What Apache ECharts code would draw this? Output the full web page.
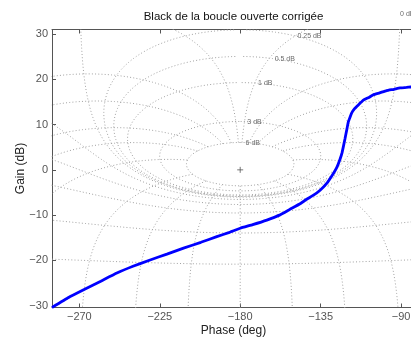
<!DOCTYPE html>
<html><head><meta charset="utf-8">
<script src="https://cdn.jsdelivr.net/npm/echarts@6/dist/echarts.min.js"></script>
<style>html,body{margin:0;padding:0;background:#fff}#c{width:411px;height:340px}</style>
</head><body><div id="c"></div>
<script>
// ---- texts ----
const titleText = 'Black de la boucle ouverte corrigée';
const xName = 'Phase (deg)';
const yName = 'Gain (dB)';
// ---- tick labels ----
const xTicks = [-270, -225, -180, -135, -90];
const yTicks = [-30, -20, -10, 0, 10, 20, 30];
// ---- open-loop curve (phase deg, gain dB) ----
const curvePhase = [-285.3,-276,-267.6,-258,-249,-240,-230.4,-221,-211.7,-202,-193.1,-186,-180,-173,-165.1,-158,-152.1,-147,-142.8,-139,-135.3,-131.6,-128.5,-126,-124.1,-123,-121.4,-120.3,-119.5,-118.5,-117.6,-116,-114.8,-113,-111.1,-108,-105.5,-102,-98.1,-94,-90.6,-87,-84.5,-82];
const curveGain  = [-30.4,-28.2,-26.5,-24.6,-22.8,-21.3,-19.9,-18.6,-17.3,-16.0,-14.75,-13.8,-12.9,-12.1,-11.1,-10.0,-8.7,-7.6,-6.5,-5.6,-4.5,-3.0,-1.2,0.5,2.4,3.8,6.8,9.0,10.6,11.7,12.6,13.5,14.0,14.7,15.4,16.0,16.6,17.0,17.5,17.8,18.1,18.2,18.3,18.4];
// ---- Nichols grid definition ----
const gridGainsDb = [6, 3, 1, 0.5, 0.25, 0, -1, -3, -6, -12, -20, -40];
const gridPhasesDeg = [1, 5, 10, 20, 30, 50, 90, 120, 150, 180];
const labelGainsDb = [6, 3, 1, 0.5, 0.25, 0];
const labelAtPhase = [-177, -176, -170, -160.7, -148, -90.55];
const critPoint = [-180, 0];

const D = Math.PI / 180;
function olPoint(m, psi) { // closed-loop m (abs), psi (rad) -> [phase deg, gain dB]
  const Tr = m * Math.cos(psi), Ti = m * Math.sin(psi);
  const Dr = 1 - Tr, Di = -Ti;
  const mag = m / Math.hypot(Dr, Di);
  const ph = (psi - Math.atan2(Di, Dr)) / D;
  const g = 20 * Math.log10(mag);
  if (!isFinite(g) || Math.abs(g) > 60) return [ph, '-'];
  return [ph, g];
}
function mContour(mdB) {
  const m = Math.pow(10, mdB / 20), pts = [];
  for (let i = 1; i < 3600; i++) pts.push(olPoint(m, -i * 0.1 * D));
  return pts;
}
function nContour(p, mirror) {
  const pts = [];
  let d = 6;
  while (d >= -40) {
    const q = olPoint(Math.pow(10, d / 20), -p * D);
    pts.push(mirror ? [-360 - q[0], q[1]] : q);
    d -= Math.abs(d) < 0.6 ? 0.004 : 0.02;
  }
  return pts;
}
function mGainAt(mdB, phDeg) {
  const m = Math.pow(10, mdB / 20), c = Math.cos(phDeg * D);
  if (Math.abs(m - 1) < 1e-9) return 20 * Math.log10(-1 / (2 * c));
  const m2 = m * m;
  const G = (m2 * c - Math.sqrt(m2 * m2 * c * c + m2 * (1 - m2))) / (1 - m2);
  return 20 * Math.log10(G);
}

const gridStyle = { color: '#a0a0a0', width: 1, type: [1, 2.2] };
const series = [];
gridGainsDb.forEach(g => series.push({
  type: 'line', data: mContour(g), showSymbol: false, symbol: 'none', silent: true,
  lineStyle: gridStyle, connectNulls: false, z: 1
}));
gridPhasesDeg.forEach(p => {
  series.push({ type: 'line', data: nContour(p, false), showSymbol: false, symbol: 'none', silent: true, lineStyle: gridStyle, z: 1 });
  if (p !== 180) series.push({ type: 'line', data: nContour(p, true), showSymbol: false, symbol: 'none', silent: true, lineStyle: gridStyle, z: 1 });
});
series.push({
  type: 'scatter', silent: true, clip: false, symbolSize: 0, z: 5,
  data: labelGainsDb.map((g, i) => ({ value: [labelAtPhase[i], mGainAt(g, labelAtPhase[i])], name: g + ' dB' })),
  label: { show: true, position: 'right', distance: 0, formatter: '{b}', fontSize: 7, color: '#444' }
});
series.push({
  type: 'scatter', silent: true, data: [critPoint], symbol: 'path://M5,0L5,10M0,5L10,5', symbolSize: 6,
  itemStyle: { color: 'none', borderColor: '#555', borderWidth: 1 }, z: 5
});
series.push({
  type: 'line', data: curvePhase.map((p, i) => [p, curveGain[i]]), showSymbol: false, symbol: 'none',
  smooth: 0.1, lineStyle: { color: '#0000ff', width: 2.8 }, z: 10
});

const fmt = v => (v < 0 ? '\u2212' + Math.abs(v) : String(v));
const axisCol = '#555';
const chart = echarts.init(document.getElementById('c'), null, { renderer: 'canvas' });
chart.setOption({
  animation: false,
  textStyle: { fontFamily: '"Liberation Sans", Arial, sans-serif' },
  grid: { left: 52, top: 29.5, width: 363, height: 278, containLabel: false, outerBoundsMode: 'none' },
  graphic: [{ type: 'text', x: 233.5, y: 17, style: { text: titleText, align: 'center', verticalAlign: 'middle', fontSize: 11.5, fontFamily: '"Liberation Sans", Arial, sans-serif', fill: '#111' } }],
  xAxis: [{
    type: 'value', min: -285.3, max: -82.2, position: 'bottom',
    axisLine: { show: true, onZero: false, lineStyle: { color: axisCol, width: 1 } },
    axisTick: { show: true, inside: true, length: 4, customValues: xTicks, lineStyle: { color: axisCol } },
    axisLabel: { customValues: xTicks, formatter: fmt, color: '#555', fontSize: 11, margin: 4 },
    splitLine: { show: false },
    name: xName, nameLocation: 'middle', nameGap: 17, nameMoveOverlap: false, nameTextStyle: { fontSize: 12, color: '#222' }
  }, {
    type: 'value', min: -285.3, max: -82.2, position: 'top',
    axisLine: { show: true, onZero: false, lineStyle: { color: axisCol, width: 1 } },
    axisTick: { show: true, inside: true, length: 4, customValues: xTicks, lineStyle: { color: axisCol } },
    axisLabel: { show: false }, splitLine: { show: false }
  }],
  yAxis: [{
    type: 'value', min: -30.4, max: 31, position: 'left',
    axisLine: { show: true, onZero: false, lineStyle: { color: axisCol, width: 1 } },
    axisTick: { show: true, inside: true, length: 4, customValues: yTicks, lineStyle: { color: axisCol } },
    axisLabel: { customValues: yTicks, formatter: fmt, color: '#555', fontSize: 11, margin: 4 },
    splitLine: { show: false },
    name: yName, nameLocation: 'middle', nameGap: 25, nameMoveOverlap: false, nameTextStyle: { fontSize: 12, color: '#222' }
  }],
  series: series
});
</script></body></html>
